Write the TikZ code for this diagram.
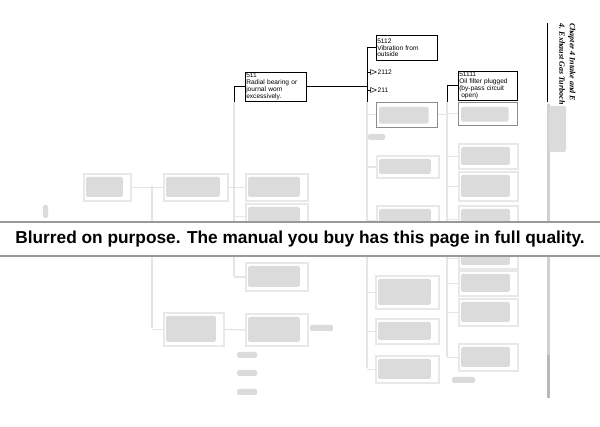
\documentclass[tikz,border=0pt]{standalone}
\usepackage{fontspec}
\newfontfamily\boxfont{Liberation Sans}
\newfontfamily\headfont{Liberation Serif}
\usetikzlibrary{positioning, arrows}

\tikzset{
  fault/.style={draw, line width=0.5pt, anchor=north west, align=left, inner sep=1pt,
    font=\boxfont\fontsize{6.6}{6.9}\selectfont},
  tag/.style={anchor=west, inner sep=0.5pt, font=\boxfont\fontsize{6.6}{6.9}\selectfont},
  hazy/.style={draw=black!9, line width=1.8pt, anchor=north west, fill=white},
  halfclear/.style={draw=black!45, line width=0.6pt, anchor=north west, fill=white},
  smear/.style={fill=black!14, draw=none, rounded corners=1.5pt},
  ghost/.style={draw=black!10, line width=1.4pt},
  branch/.style={line width=0.5pt},
  pointer/.style={line width=0.5pt, -open triangle 45},
  headline/.style={font=\headfont\bfseries\itshape\fontsize{8}{9}\selectfont, inner sep=0pt},
  banner/.style={font=\boxfont\bfseries\fontsize{17.3}{20}\selectfont, inner sep=0pt},
}

\begin{document}
\begin{tikzpicture}[x=1pt, y=-1pt]
  \useasboundingbox (0,0) rectangle (600,427);

  % readable part of the chart
  \node[fault, text width=59pt, minimum height=28pt] (f511) at (245,72) {511\\Radial bearing or\\journal worn\\excessively.};
  \node[fault, text width=59pt, minimum height=25pt] (f5112) at (376,35) {5112\\Vibration from\\outside};
  \node[fault, text width=57pt, minimum height=26pt] (f51111) at (458,71) {51111\\Oil filter plugged\\(by-pass circuit\\\hspace*{2pt}open)};
  \node[tag] (l2112) at (377,72) {2112};
  \node[tag] (l211) at (377,90) {211};

  \coordinate (cut1) at (234,102);
  \coordinate (cut2) at (367,102);
  \coordinate (cut3) at (447,102);
  \coordinate (end0) at (152,186.5);
  \coordinate (end0b) at (152,328.5);
  \coordinate (end1) at (234,276);
  \coordinate (end2) at (367,368.5);
  \coordinate (end3) at (447,357);

  \draw[branch] (f511.west) -- (f511.west -| cut1) -- (cut1);
  \draw[branch] (f511.east) -- (f511.east -| cut2);
  \draw[branch] (f5112.west) -- (f5112.west -| cut2) -- (cut2);
  \draw[branch] (f51111.west) -- (f51111.west -| cut3) -- (cut3);
  \draw[pointer] (l2112.west -| cut2) -- (l2112.west);
  \draw[pointer] (l211.west -| cut2) -- (l211.west);

  % blurred part of the chart
  \draw[ghost] (cut1) -- (end1);
  \draw[ghost] (cut2) -- (end2);
  \draw[ghost] (cut3) -- (end3);
  \draw[ghost] (end0) -- (end0b);

  \node[halfclear, minimum width=61pt, minimum height=25pt] (hs1) at (376,102) {};
  \node[halfclear, minimum width=59pt, minimum height=23pt] (hu1) at (458,102) {};
  \fill[smear] ([shift={(3,5)}]hs1.north west) rectangle ([shift={(-9,-4)}]hs1.south east);
  \fill[smear] ([shift={(3,5)}]hu1.north west) rectangle ([shift={(-9,-4)}]hu1.south east);
  \draw[ghost] (hs1.west) -- (hs1.west -| cut2);
  \draw[ghost] (hu1.west) -- (hu1.west -| cut3);
  \draw[ghost] (hs1.east) -- (hs1.east -| cut3);

  \foreach \n/\x/\y/\w/\h/\d in {a/83/173/47/27/0, b/163/173/64/27/11, c/163/312/60/33/11,
      r1/245/173/62/27/11, r2/245/203/62/25/11, r3/245/262/62/28/11, d/245/313/62/32/0,
      s2/376/155/62/22/9, s3/376/205/62/30/9, s4/375/275/63/33/8, s5/375/318/63/25/8, s6/375/355/63/27/8,
      u2/458/143/59/25/11, u3/458/171/59/29/11, u4/458/205/59/27/11, u5/458/247/59/21/11,
      u6/458/270/59/25/11, u7/458/298/59/27/11, u8/458/343/59/27/11}{
    \node[hazy, minimum width=\w pt, minimum height=\h pt] (h\n) at (\x,\y) {};
    \fill[smear] ([shift={(3,4)}]h\n.north west) rectangle ([shift={(-9,-5)}]h\n.south east);
    \draw[ghost] (h\n.west) -- ++(-\d,0);
  }
  \draw[ghost] (ha.east) -- (ha.east -| end0);
  \draw[ghost] (hb.east) -- (hb.east -| cut1);
  \draw[ghost] (hc.east) -- (hd.west);

  \fill[smear] (368,134) rectangle (385,140);
  \fill[smear] (310,325) rectangle (333,331);
  \fill[smear] (237,352) rectangle (257,358);
  \fill[smear] (237,370) rectangle (257,376);
  \fill[smear] (237,389) rectangle (257,395);
  \fill[smear] (452,377) rectangle (475,383);
  \fill[smear] (43,205) rectangle (48,218);

  % running head
  \node[headline, rotate=-90, anchor=south west] (chap) at (568,23) {Chapter 4 Intake and E};
  \node[headline, rotate=-90, anchor=south west] (sect) at (559,23) {4. Exhaust Gas Turboch};
  \draw[line width=0.6pt] (547,23) -- (547,102);
  \draw[black!18, line width=3pt] (548,104) -- (548,398);
  \draw[black!28, line width=3pt] (548,355) -- (548,398);
  \fill[smear] (549,106) rectangle (566,152);

  % notice
  \fill[white] (0,222) rectangle (600,256);
  \draw[black!40, line width=1.3pt] (0,222) -- (600,222);
  \draw[black!40, line width=1.3pt] (0,256) -- (600,256);
  \node[banner] (notice) at (300,239) {Blurred on purpose. The manual you buy has this page in full quality.};
\end{tikzpicture}
\end{document}
